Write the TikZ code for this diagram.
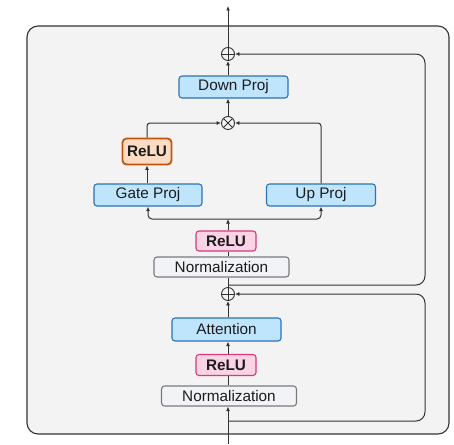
\documentclass[tikz,border=0pt]{standalone}
\usepackage{fontspec}
\setmainfont{Liberation Sans}
\usetikzlibrary{arrows.meta}
\definecolor{panelfill}{HTML}{F3F3F3}
\definecolor{panelline}{HTML}{333333}
\definecolor{wire}{HTML}{333333}
\definecolor{ink}{HTML}{1C1C1E}
\definecolor{projfill}{HTML}{BEE5FB}
\definecolor{projline}{HTML}{2C73B9}
\definecolor{relufill}{HTML}{FAD3E4}
\definecolor{reluline}{HTML}{D63A7B}
\definecolor{actfill}{HTML}{FCDCC3}
\definecolor{actline}{HTML}{C05512}
\definecolor{normfill}{HTML}{F2F3F6}
\definecolor{normline}{HTML}{7A7A7A}
\tikzset{
  box/.style={rectangle, rounded corners=3pt, line width=1.1pt, inner sep=0pt,
    text=ink, font=\fontsize{15.3}{17}\selectfont},
  proj/.style={box, draw=projline, fill=projfill, minimum width=109pt, minimum height=22pt},
  relu/.style={box, draw=reluline, fill=relufill, minimum width=60pt, minimum height=21pt,
    font=\fontsize{15.3}{17}\selectfont\bfseries},
  act/.style={box, draw=actline, fill=actfill, line width=1.8pt, rounded corners=4pt,
    minimum width=49pt, minimum height=26pt, font=\fontsize{15.3}{17}\selectfont\bfseries},
  norm/.style={box, draw=normline, fill=normfill, minimum width=135pt, minimum height=20pt},
  opcircle/.style={circle, draw=wire, line width=0.9pt, minimum size=13pt, inner sep=0pt},
  plus/.style={opcircle, path picture={
    \draw[wire, line width=0.9pt]
      (path picture bounding box.north) -- (path picture bounding box.south)
      (path picture bounding box.west) -- (path picture bounding box.east);}},
  times/.style={opcircle, path picture={
    \draw[wire, line width=0.9pt]
      ([shift={(45:6.5pt)}]path picture bounding box.center) --
      ([shift={(225:6.5pt)}]path picture bounding box.center)
      ([shift={(135:6.5pt)}]path picture bounding box.center) --
      ([shift={(315:6.5pt)}]path picture bounding box.center);}},
  wireline/.style={draw=wire, line width=1pt},
  arr/.style={wireline, -{Latex[length=4.5pt, width=4pt]}},
}
\begin{document}
\begin{tikzpicture}[x=1pt, y=-1pt]
\useasboundingbox (0,0) rectangle (454,444);
% block panel
\draw[fill=panelfill, draw=panelline, line width=1.1pt, rounded corners=11pt]
  (27,26) rectangle (449,434);

% attention half
\node[norm] (norm1) at (229,396) {Normalization};
\node[relu] (relu1) at (226,365) {ReLU};
\node[proj, minimum height=23pt] (attn) at (226.5,329.5) {Attention};
\node[plus] (add1) at (228,294) {};

% feed-forward half
\node[norm] (norm2) at (221.5,267) {Normalization};
\node[relu, minimum height=20pt] (relu2) at (226,241) {ReLU};
\node[proj, minimum width=108pt] (gate) at (148,195) {Gate Proj};
\node[proj] (up) at (321,195) {Up Proj};
\node[act] (relu3) at (147,151.5) {ReLU};
\node[times] (mul) at (228,123) {};
\node[proj] (down) at (233.5,87) {Down Proj};
\node[plus] (add2) at (228,54) {};

% ends and junctions
\coordinate (in) at (228,444);
\coordinate (out) at (228,6);
\coordinate (skipA) at (228,421);
\coordinate (skipB) at (228,285);
\coordinate (split) at (228,219);
\coordinate (rail) at (425,0);

% attention path
\draw[arr] (in) -- (in |- norm1.south);
\draw[wireline] (in |- norm1.north) -- (in |- relu1.south);
\draw[arr] (in |- relu1.north) -- (in |- attn.south);
\draw[arr] (in |- attn.north) -- (add1.south);
\draw[arr, rounded corners=9pt] (skipA) -- (rail |- skipA) -- (rail |- add1) -- (add1.east);

% feed-forward path
\draw[wireline] (add1.north) -- (in |- norm2.south);
\draw[wireline] (in |- norm2.north) -- (in |- relu2.south);
\draw[arr] (in |- relu2.north) -- (split);
\draw[arr, rounded corners=4pt] (split) -| (gate.south);
\draw[arr, rounded corners=4pt] (split) -| (up.south);
\draw[arr] (gate.north -| relu3.south) -- (relu3.south);
\draw[arr, rounded corners=3pt] (relu3.north) |- (mul.west);
\draw[arr, rounded corners=3pt] (up.north) |- (mul.east);
\draw[arr] (mul.north) -- (in |- down.south);
\draw[arr] (in |- down.north) -- (add2.south);
\draw[arr, rounded corners=9pt] (skipB) -- (rail |- skipB) -- (rail |- add2) -- (add2.east);
\draw[arr] (add2.north) -- (out);
\end{tikzpicture}
\end{document}
